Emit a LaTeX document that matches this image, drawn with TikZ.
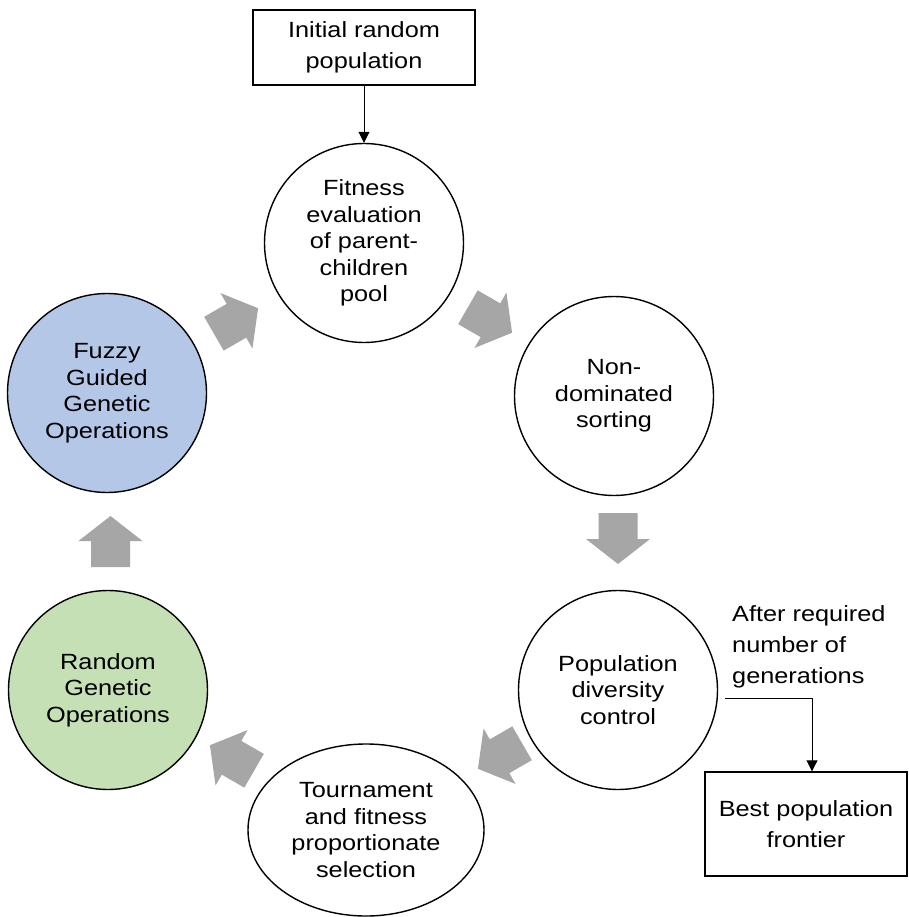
\documentclass[tikz,border=0pt]{standalone}
\usepackage{fontspec}
\setmainfont{Liberation Sans}[FakeStretch=1.15]
\usetikzlibrary{shapes.geometric,arrows.meta}
\definecolor{fuzzyblue}{HTML}{B4C7E7}
\definecolor{randgreen}{HTML}{C5E0B4}
\definecolor{flowgray}{HTML}{A6A6A6}
\begin{document}
\begin{tikzpicture}[x=1pt,y=-1pt,
  stage/.style={circle,draw,line width=1.4pt,minimum size=199pt,inner sep=0pt,
    align=center,font=\fontsize{22}{26.5}\selectfont},
  selstage/.style={ellipse,draw,line width=1.4pt,minimum width=236pt,minimum height=172pt,
    inner sep=0pt,align=center,font=\fontsize{22}{26.5}\selectfont},
  labelbox/.style={rectangle,draw,line width=1.4pt,inner sep=0pt,align=center,
    font=\fontsize{22}{31.5}\selectfont},
  note/.style={inner sep=0pt,align=left,font=\fontsize{22}{31}\selectfont},
  link/.style={line width=0.9pt,-{Triangle[length=11pt,width=11pt]}},
  cyclearrow/.pic={\fill[flowgray] (-25.5,-19.5) -- (0.5,-19.5) -- (0.5,-32) -- (25.5,0)
    -- (0.5,32) -- (0.5,19.5) -- (-25.5,19.5) -- cycle;}
]
\useasboundingbox (0,0) rectangle (908,917);

% start and end boxes
\node[labelbox,minimum width=222pt,minimum height=75pt] (init) at (364,47.5)
  {Initial random\\population};
\node[labelbox,minimum width=202pt,minimum height=104pt] (best) at (806,824)
  {Best population\\frontier};

% stages of the loop
\node[stage] (fit) at (364,243) {Fitness\\evaluation\\of parent-\\children\\pool};
\node[stage] (sort) at (614,396) {Non-\\dominated\\sorting};
\node[stage] (div) at (618,690) {Population\\diversity\\control};
\node[selstage] (sel) at (366,830) {Tournament\\and fitness\\proportionate\\selection};
\node[stage,fill=randgreen] (rand) at (108,690) {Random\\Genetic\\Operations};
\node[stage,fill=fuzzyblue] (fuzzy) at (107,393) {Fuzzy\\Guided\\Genetic\\Operations};

% loop direction
\pic[rotate=30] at (236,321) {cyclearrow};
\pic[rotate=-30] at (490,320) {cyclearrow};
\pic[rotate=-90] at (618,538.5) {cyclearrow};
\pic[rotate=-150] at (500,756) {cyclearrow};
\pic[rotate=150] at (232,758) {cyclearrow};
\pic[rotate=90] at (110.5,541.5) {cyclearrow};

% entry and exit
\draw[link] (init) -- (fit);
\node[note,anchor=north west] (stopnote) at (732,605)
  {After required\\number of\\generations};
\coordinate (exitpt) at (725,698);
\draw[link] (exitpt) -| ([xshift=6pt]best.north);
\end{tikzpicture}
\end{document}
